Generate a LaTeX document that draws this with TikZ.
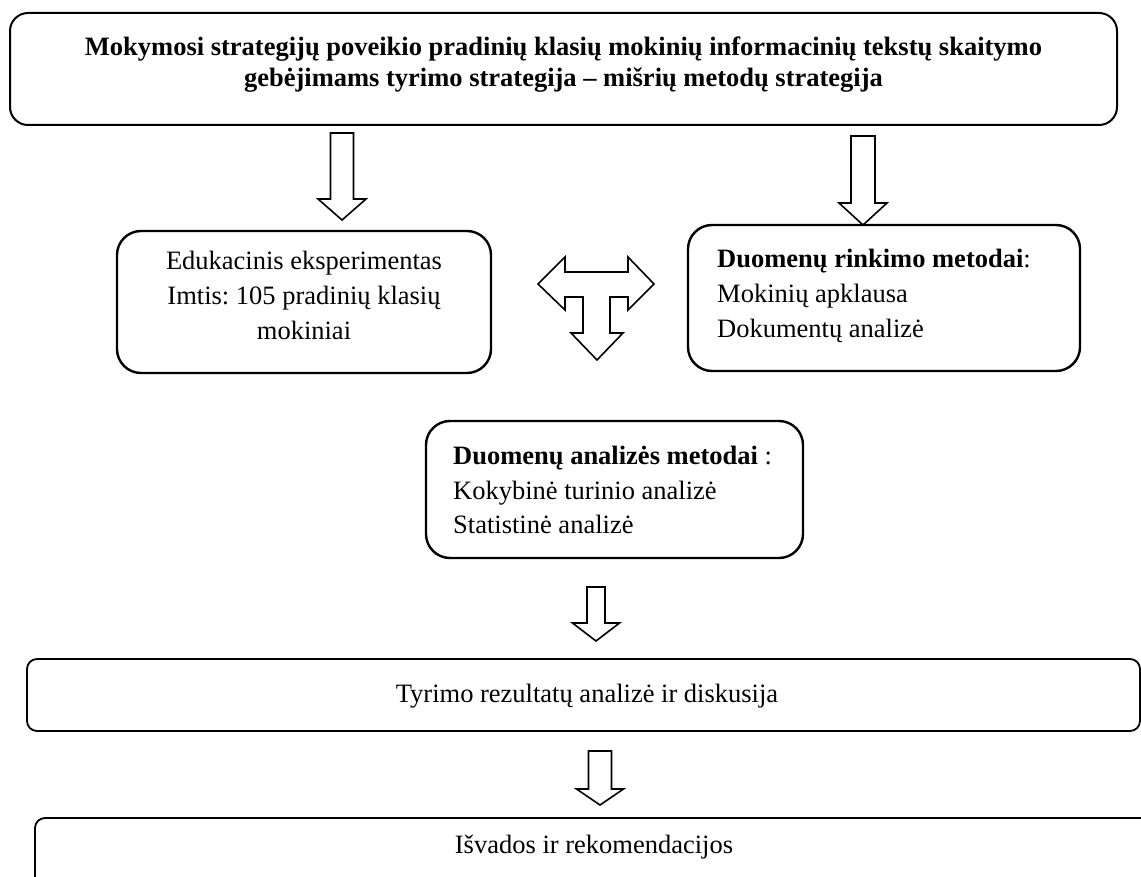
\documentclass[tikz,border=0pt]{standalone}
\usepackage{fontspec}
\setmainfont{Liberation Serif}
\frenchspacing
\usetikzlibrary{calc}

\tikzset{
  % rounded frames of the flow chart
  headframe/.style={draw=black, line width=2pt, rounded corners=18pt, inner sep=0pt},
  frame/.style={draw=black, line width=2.4pt, rounded corners=24pt, inner sep=0pt},
  flatframe/.style={draw=black, line width=1.8pt, rounded corners=10pt, inner sep=0pt},
  % text set inside the frames
  body/.style={inner sep=0pt, font=\fontsize{26.5}{35}\selectfont},
  headtext/.style={inner sep=0pt, align=center, font=\bfseries\fontsize{26.5}{31}\selectfont},
  % hollow block arrows
  blockarrow/.style={draw=black, line width=1.6pt, fill=white, line join=miter},
  shaft half/.store in=\shafthalf,
  head half/.store in=\headhalf,
  head length/.store in=\headlength,
  arrow length/.store in=\arrowlength,
  down block/.pic={
    \draw[blockarrow] (-\shafthalf,-\arrowlength) -- (\shafthalf,-\arrowlength)
      -- (\shafthalf,-\headlength) -- (\headhalf,-\headlength) -- (0,0)
      -- (-\headhalf,-\headlength) -- (-\shafthalf,-\headlength) -- cycle;
  }
}

\begin{document}
\begin{tikzpicture}[x=1pt,y=-1pt]
\useasboundingbox (0,0) rectangle (1141,877);
\clip (0,0) rectangle (1141,877);

% frames
\node[headframe, minimum width=1107pt, minimum height=112pt] (goal) at (563.5,69) {};
\node[frame, minimum width=374pt, minimum height=142pt] (experiment) at (304,302) {};
\node[frame, minimum width=392pt, minimum height=146pt] (collect) at (884,298) {};
\node[frame, minimum width=377pt, minimum height=137pt] (analysis) at (614.5,489.5) {};
\node[flatframe, minimum width=1113pt, minimum height=72pt] (results) at (583.5,695) {};
\node[flatframe, minimum width=1118pt, minimum height=82pt] (conclusions) at (594,859) {};

% texts
\node[headtext, anchor=north] (goal-text) at (563.5,37)
  {Mokymosi strategijų poveikio pradinių klasių mokinių informacinių tekstų skaitymo\\
   gebėjimams tyrimo strategija – mišrių metodų strategija};
\node[body, align=center, anchor=north] (experiment-text) at (304,251)
  {Edukacinis eksperimentas\\Imtis: 105 pradinių klasių\\mokiniai};
\node[body, align=left, anchor=north west] (collect-text) at (717,249)
  {\textbf{Duomenų rinkimo metodai}:\\Mokinių apklausa\\Dokumentų analizė};
\node[body, align=left, anchor=north west, font=\fontsize{26.5}{34.5}\selectfont] (analysis-text) at (453,446)
  {\textbf{Duomenų analizės metodai} :\\Kokybinė turinio analizė\\Statistinė analizė};
\node[body, anchor=base] (results-text) at (587,702) {Tyrimo rezultatų analizė ir diskusija};
\node[body, anchor=base] (conclusions-text) at (594,853) {Išvados ir rekomendacijos};

% block arrows between the frames
\pic[shaft half=11.5, head half=24, head length=21, arrow length=87] at (342,220) {down block};
\pic[shaft half=12, head half=24, head length=22, arrow length=89] at (863,225) {down block};
\pic[shaft half=9, head half=23.5, head length=18, arrow length=54] at (596,641) {down block};
\pic[shaft half=11.5, head half=23.5, head length=16, arrow length=54] at (600,805) {down block};

% two-way arrow with a branch down to the analysis methods
\draw[blockarrow] (538,284) -- (565,257) -- (565,272) -- (628,272) -- (628,257)
  -- (654,284) -- (628,310) -- (628,297) -- (610,297) -- (610,333) -- (623,333)
  -- (597,360) -- (571,333) -- (583,333) -- (583,297) -- (565,297) -- (565,310) -- cycle;
\end{tikzpicture}
\end{document}
